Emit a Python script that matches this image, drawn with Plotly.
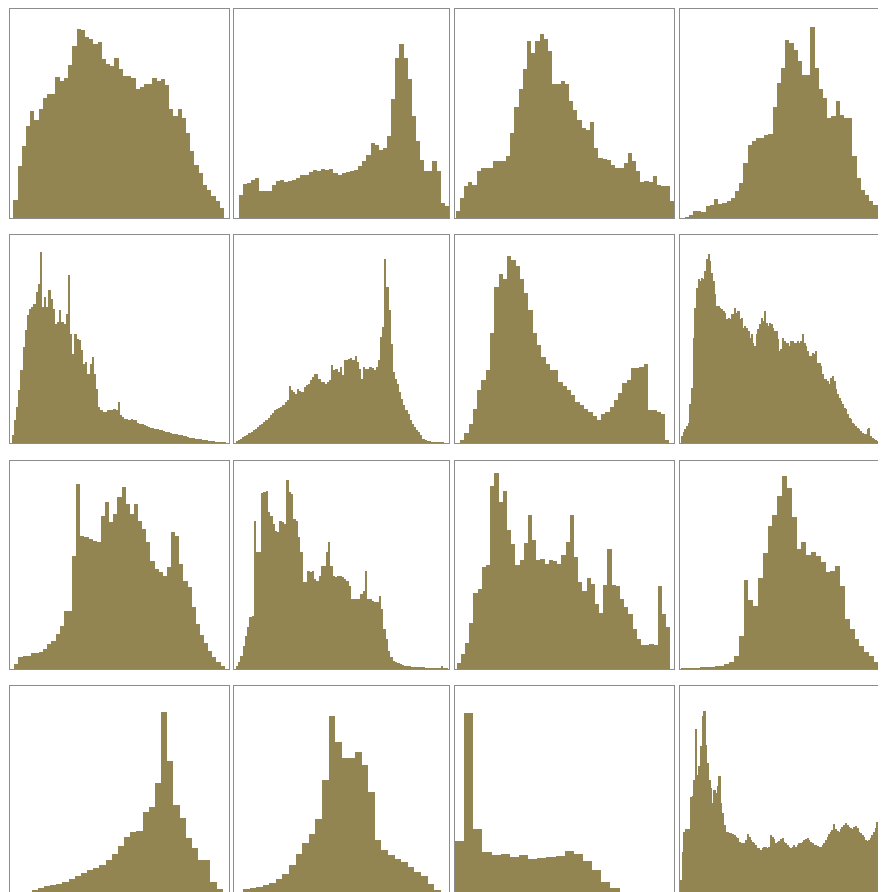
import plotly.graph_objects as go

# ---------------- data: histogram bin counts per panel (row-major) ----------------
p01 = [55,155,215,275,320,295,325,360,370,370,423,410,420,457,515,567,563,543,535,520,527,475,460,455,480,445,425,425,420,385,393,400,400,420,410,417,397,325,305,325,300,255,200,160,135,100,85,65,50,30]
p02 = [70,102,105,115,120,80,80,80,100,112,115,108,110,115,120,128,130,138,145,140,148,145,148,135,130,135,138,140,145,155,170,190,225,220,205,210,245,355,480,520,480,415,305,230,175,140,140,170,142,45,35]
p03 = [20,60,95,107,100,140,150,150,150,170,170,170,187,255,333,387,447,530,495,530,550,537,500,400,400,410,400,350,323,295,270,265,287,210,180,177,173,160,150,150,165,195,170,140,107,110,107,125,100,95,95,50]
p04 = [2,10,22,20,18,35,40,58,42,45,50,60,80,105,165,218,230,240,240,250,252,332,405,450,532,525,502,470,428,428,572,450,385,360,300,305,350,308,300,300,185,120,85,70,50,40,30,35,25,18,6]
p05 = [25,70,110,160,220,290,340,385,405,410,420,455,480,575,410,440,410,460,435,405,360,365,400,365,360,390,505,330,270,330,315,310,280,240,245,210,240,260,210,165,110,100,95,95,100,100,100,105,100,125,85,80,75,75,70,75,70,72,62,60,58,55,52,50,48,47,45,45,42,40,38,36,34,32,30,30,28,26,25,24,22,20,18,18,16,15,14,13,12,11,10,9,8,7,6,5,4,3,2,1]
p06 = [8,12,15,19,23,27,31,36,40,45,50,55,60,65,70,78,85,92,100,105,108,110,115,125,130,172,160,155,150,165,158,155,170,175,180,190,200,210,208,195,185,185,180,185,190,235,220,225,215,230,205,250,250,255,258,250,262,245,225,195,230,225,225,230,228,220,230,250,320,350,555,470,400,300,215,195,180,155,135,115,100,90,72,60,50,42,35,25,14,10,8,7,6,5,4,3,3,2,1,1]
p07 = [10,32,60,105,162,190,220,332,470,508,495,562,550,532,495,452,400,332,295,260,238,220,220,185,172,160,145,125,115,105,95,82,70,90,95,110,130,152,182,192,228,228,230,238,102,100,95,90,10]
p08 = [23,36,43,53,63,118,168,318,408,468,493,488,498,493,518,553,568,548,513,488,448,413,413,408,403,398,393,373,378,373,388,388,408,393,398,373,378,348,353,348,338,318,328,303,293,328,343,358,378,368,398,363,353,363,358,348,338,338,313,278,283,318,308,303,303,293,308,308,303,303,308,303,308,328,303,293,278,263,263,273,268,278,243,243,233,208,193,193,188,178,198,203,188,163,148,138,128,118,108,103,88,78,73,63,58,53,48,43,38,33,30,28,43,46,23,18,13,10,8,7,6,4,3,2,2,2,1,1,1,1,1]
p09 = [17,37,40,42,50,50,54,62,77,87,107,130,177,177,340,557,402,397,392,387,382,462,502,442,467,517,547,497,467,497,447,422,382,327,302,292,282,307,412,402,317,267,247,187,137,104,80,57,37,22,12]
p10 = [12,22,42,72,102,127,157,162,447,352,352,530,534,537,472,462,437,417,414,447,442,437,570,532,527,452,447,397,352,262,262,297,292,297,272,267,282,312,312,352,384,312,282,277,280,280,277,272,267,252,212,212,212,212,227,237,297,212,212,207,202,204,220,182,122,92,57,37,27,22,19,16,14,12,11,10,9,9,8,8,7,7,6,6,5,5,5,4,4,10,4,3]
p11 = [20,48,80,140,230,243,308,313,550,590,503,536,418,378,313,330,380,463,390,330,333,318,330,326,318,343,383,465,338,263,236,276,258,196,170,253,363,253,250,213,188,168,123,93,75,73,76,73,250,168,128]
p12 = [2,4,5,6,7,8,9,10,12,16,24,40,102,270,210,192,274,350,432,464,522,582,544,457,362,382,344,352,342,324,294,297,310,250,152,122,92,72,54,42,22,12,7,4,2]
p13 = [3,5,8,14,20,26,30,34,40,48,56,65,75,80,90,105,122,148,175,190,192,248,265,335,548,402,270,232,172,140,106,106,40,18,5]
p14 = [2,19,22,24,29,36,49,62,89,124,156,182,229,344,536,459,409,409,429,389,309,166,136,119,109,99,84,69,56,34,14,4]
p15 = [162,546,199,129,119,124,114,119,109,112,114,116,132,124,102,76,39,22,9,2,0,0,0,0]
p16 = [45,130,190,197,197,197,295,297,345,497,360,385,445,535,550,450,395,345,320,275,315,305,325,355,275,245,210,190,190,187,185,183,180,175,170,160,157,157,157,165,183,175,165,160,155,150,140,140,135,140,145,145,140,145,180,175,167,155,160,163,167,170,160,155,150,145,140,145,150,145,150,155,157,160,165,167,170,165,160,155,150,150,147,145,145,150,155,165,175,183,190,195,213,197,193,190,197,205,210,215,210,205,200,197,205,207,200,190,185,180,173,165,163,165,170,180,190,200,220,235,225,185,145,150,155,160,150,145,140,150,145]

panels = [p01, p02, p03, p04, p05, p06, p07, p08,
          p09, p10, p11, p12, p13, p14, p15, p16]

# ---------------- layout / style ----------------
BAR_COLOR = "#928551"
FRAME_COLOR = "#8c8c8c"
Y_TOP = 626

# blank space (in bins) left/right of the bars inside each frame
pad_left = [0.8, 1.1, 0.15, 1.1, 0.8, 0.8, 1.2, 1.0, 1.05, 0.7, 0.4, 0.15, 0.5, 0.35, 0.0, 0.4]
pad_right = [1.2, 0.0, 0.15, 0.0, 0.5, 0.5, 1.2, 0.0, 1.05, 0.4, 1.0, 0.1, 0.0, 0.25, 0.0, 0.0]

W, H = 900, 905
col_px = [(2, 221), (226, 441), (446.5, 666), (671.5, 890)]
row_px = [(1, 210), (226.5, 435), (452.5, 661), (678, 887)]

fig = go.Figure()
for k, vals in enumerate(panels):
    r, c = divmod(k, 4)
    n = len(vals)
    ax = "" if k == 0 else str(k + 1)
    fig.add_trace(go.Bar(
        x=list(range(n)), y=vals,
        marker=dict(color=BAR_COLOR, line=dict(width=0)),
        xaxis="x" + ax, yaxis="y" + ax,
        hoverinfo="skip", showlegend=False,
    ))
    x0, x1 = col_px[c]
    y0, y1 = row_px[r]
    axis_common = dict(showgrid=False, zeroline=False, showticklabels=False,
                       ticks="", showline=True, mirror=True,
                       linecolor=FRAME_COLOR, linewidth=1, fixedrange=True)
    fig.layout["xaxis" + ax] = dict(
        domain=[x0 / W, x1 / W],
        range=[-0.5 - pad_left[k], n - 0.5 + pad_right[k]],
        anchor="y" + ax, **axis_common)
    fig.layout["yaxis" + ax] = dict(
        domain=[1 - y1 / H, 1 - y0 / H],
        range=[0, Y_TOP],
        anchor="x" + ax, **axis_common)

fig.update_layout(
    width=W, height=H,
    margin=dict(l=0, r=0, t=0, b=0),
    paper_bgcolor="white", plot_bgcolor="white",
    bargap=0, showlegend=False,
)

fig.write_html("out.html", config={"displayModeBar": False},
               post_script="document.body.style.overflow='hidden';")
